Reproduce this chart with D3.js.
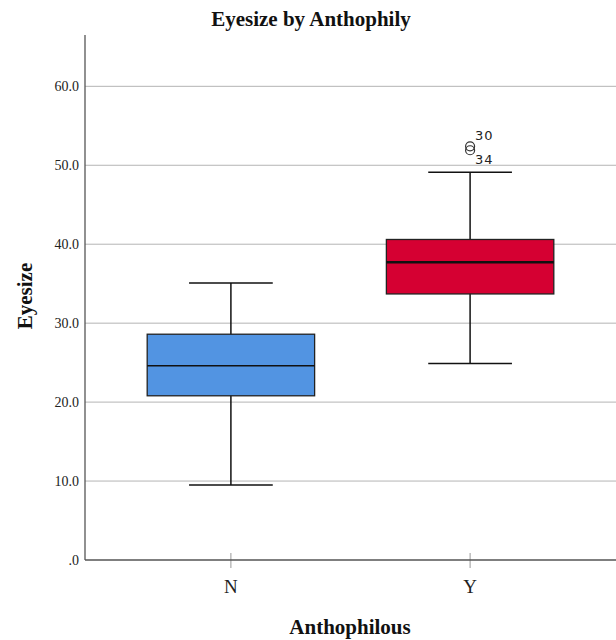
<!DOCTYPE html>
<html>
<head>
<meta charset="utf-8">
<script src="https://cdn.jsdelivr.net/npm/d3@7"></script>
<style>
  body { margin: 0; background: #fff; }
</style>
</head>
<body>
<script>
var categories = ["N", "Y"];
var colors = ["#5294e2", "#d50032"];
var whiskerLow = [9.5, 24.9];
var q1 = [20.8, 33.7];
var medians = [24.6, 37.7];
var q3 = [28.6, 40.6];
var whiskerHigh = [35.1, 49.1];
var outliers = [
  { cat: "Y", value: 52.4, label: "30" },
  { cat: "Y", value: 51.9, label: "34" }
];
var yTicks = [0, 10, 20, 30, 40, 50, 60];

var width = 616, height = 640;
var plotLeft = 85, plotRight = 616, plotTop = 35, plotBottom = 560;

var svg = d3.select("body").append("svg")
  .attr("width", width)
  .attr("height", height);

var y = d3.scaleLinear().domain([0, 66.5]).range([plotBottom, plotTop]);
var x = d3.scaleBand().domain(categories).range([plotLeft, plotRight]).paddingInner(0.3).paddingOuter(0.26);

// gridlines
svg.append("g").selectAll("line")
  .data(yTicks.filter(function(d) { return d > 0; }))
  .enter().append("line")
  .attr("x1", plotLeft).attr("x2", plotRight)
  .attr("y1", function(d) { return y(d); })
  .attr("y2", function(d) { return y(d); })
  .attr("stroke", "#b4b4b4")
  .attr("stroke-width", 1);

// y axis
var yAxis = svg.append("g")
  .attr("transform", "translate(" + plotLeft + ",0)")
  .call(d3.axisLeft(y).tickValues(yTicks).tickSize(0).tickPadding(6)
    .tickFormat(function(d) { return d === 0 ? ".0" : d3.format(".1f")(d); }));
yAxis.select(".domain").remove();
yAxis.selectAll("text")
  .attr("font-family", "Liberation Serif, serif")
  .attr("font-size", 14)
  .attr("fill", "#222");
svg.append("line")
  .attr("x1", plotLeft).attr("x2", plotLeft)
  .attr("y1", plotTop).attr("y2", plotBottom)
  .attr("stroke", "#555").attr("stroke-width", 1.3);

// x axis
var xAxis = svg.append("g")
  .attr("transform", "translate(0," + plotBottom + ")")
  .call(d3.axisBottom(x).tickSize(8).tickPadding(12));
xAxis.select(".domain").remove();
xAxis.selectAll(".tick line")
  .attr("y1", -7)
  .attr("stroke", "#999");
xAxis.selectAll("text")
  .attr("font-family", "Liberation Serif, serif")
  .attr("font-size", 19)
  .attr("fill", "#222");
svg.append("line")
  .attr("x1", plotLeft).attr("x2", plotRight)
  .attr("y1", plotBottom).attr("y2", plotBottom)
  .attr("stroke", "#555").attr("stroke-width", 1.3);

// boxes
var boxes = svg.append("g").selectAll("g")
  .data(categories)
  .enter().append("g");

boxes.each(function(c, i) {
  var g = d3.select(this);
  var cx = x(c) + x.bandwidth() / 2;
  var bw = x.bandwidth();
  g.append("line")
    .attr("x1", cx).attr("x2", cx)
    .attr("y1", y(whiskerLow[i])).attr("y2", y(whiskerHigh[i]))
    .attr("stroke", "#111").attr("stroke-width", 1.5);
  [whiskerLow[i], whiskerHigh[i]].forEach(function(v) {
    g.append("line")
      .attr("x1", cx - bw / 4).attr("x2", cx + bw / 4)
      .attr("y1", y(v)).attr("y2", y(v))
      .attr("stroke", "#111").attr("stroke-width", 1.5);
  });
  g.append("rect")
    .attr("x", x(c)).attr("width", bw)
    .attr("y", y(q3[i])).attr("height", y(q1[i]) - y(q3[i]))
    .attr("fill", colors[i])
    .attr("stroke", "#222").attr("stroke-width", 1.3);
  g.append("line")
    .attr("x1", x(c)).attr("x2", x(c) + bw)
    .attr("y1", y(medians[i])).attr("y2", y(medians[i]))
    .attr("stroke", "#111").attr("stroke-width", i === 1 ? 2.5 : 1.5);
});

// outliers
var outG = svg.append("g");
outliers.forEach(function(o, j) {
  var cx = x(o.cat) + x.bandwidth() / 2;
  outG.append("circle")
    .attr("cx", cx).attr("cy", y(o.value)).attr("r", 4.5)
    .attr("fill", "none").attr("stroke", "#333").attr("stroke-width", 1.2);
  outG.append("text")
    .attr("x", cx + 5)
    .attr("y", j === 0 ? y(o.value) - 6 : y(o.value) + 14)
    .attr("font-family", "DejaVu Sans, sans-serif")
    .attr("font-size", 13)
    .attr("letter-spacing", 1)
    .attr("fill", "#222")
    .text(o.label);
});

// titles
svg.append("text")
  .attr("x", 311).attr("y", 26)
  .attr("text-anchor", "middle")
  .attr("font-family", "Liberation Serif, serif")
  .attr("font-weight", "bold")
  .attr("font-size", 21)
  .attr("fill", "#111")
  .text("Eyesize by Anthophily");

svg.append("text")
  .attr("x", 350).attr("y", 634)
  .attr("text-anchor", "middle")
  .attr("font-family", "Liberation Serif, serif")
  .attr("font-weight", "bold")
  .attr("font-size", 21)
  .attr("fill", "#111")
  .text("Anthophilous");

svg.append("text")
  .attr("transform", "translate(32,296) rotate(-90)")
  .attr("text-anchor", "middle")
  .attr("font-family", "Liberation Serif, serif")
  .attr("font-weight", "bold")
  .attr("font-size", 21)
  .attr("fill", "#111")
  .text("Eyesize");
</script>
</body>
</html>
